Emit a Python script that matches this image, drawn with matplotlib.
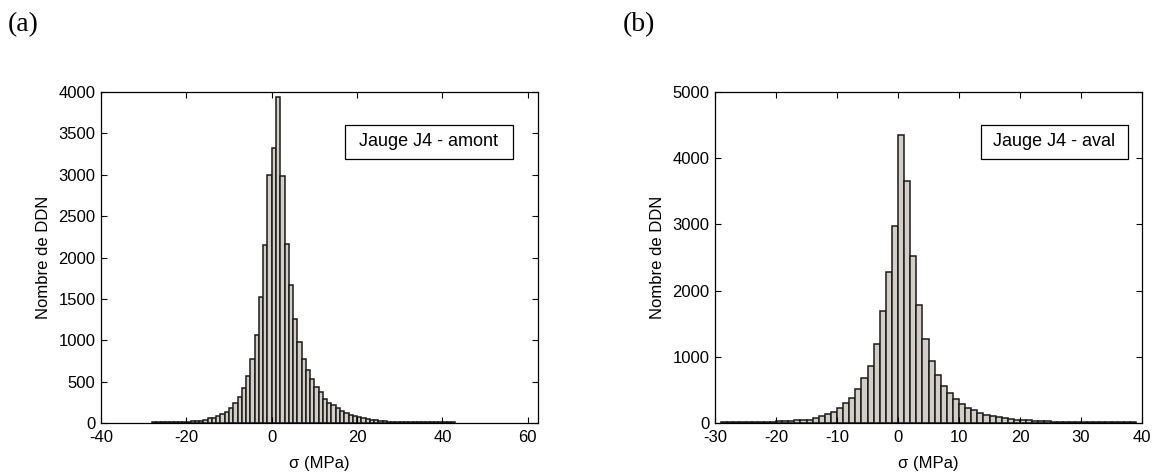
import numpy as np
import matplotlib.pyplot as plt
from matplotlib.patches import Rectangle

# Histogrammes des contraintes (jauge J4), classes de 1 MPa
# (a) amont : bornes gauches de -28 a 42 MPa
debut_amont = -28
compte_amont = [10, 8, 10, 9, 10, 8, 10, 11,
                12, 20, 22, 28, 40, 56, 58, 88, 108, 132,
                181, 241, 313, 422, 574, 771, 1064, 1518, 2149, 3000,
                3320, 3940, 2990, 2165, 1667, 1253, 984, 775, 635, 530,
                438, 375, 290, 240, 212, 180, 148, 120, 100, 80,
                68, 56, 54, 40, 38, 22, 20, 18, 18, 16,
                14, 10, 9, 10, 8, 9, 10, 8, 9, 8, 10, 9, 8]

# (b) aval : bornes gauches de -29 a 38 MPa
debut_aval = -29
compte_aval = [10, 9, 10, 10, 9, 10, 10, 11, 10,
               35, 35, 35, 50, 50, 50, 75, 111, 136, 166,
               226, 302, 377, 513, 679, 868, 1194, 1690, 2275, 2970,
               4343, 3660, 2518, 1778, 1262, 930, 724, 566, 452, 355,
               289, 228, 201, 158, 126, 108, 85, 72, 66, 50,
               50, 45, 28, 27, 25, 12, 12, 11, 12, 10,
               11, 10, 12, 10, 10, 11, 10, 9, 10]

panneaux = [
    dict(debut=debut_amont, compte=compte_amont, xlim=(-40, 62.4),
         xticks=[-40, -20, 0, 20, 40, 60], ylim=(0, 4000),
         yticks=[0, 500, 1000, 1500, 2000, 2500, 3000, 3500, 4000],
         texte='Jauge J4 - amont', lettre='(a)',
         pos=[101 / 1157, 52 / 475, 437 / 1157, 331 / 475],
         boite=(0.558, 0.798, 0.385, 0.102), lettre_x=8 / 1157),
    dict(debut=debut_aval, compte=compte_aval, xlim=(-30, 40),
         xticks=[-30, -20, -10, 0, 10, 20, 30, 40], ylim=(0, 5000),
         yticks=[0, 1000, 2000, 3000, 4000, 5000],
         texte='Jauge J4 - aval', lettre='(b)',
         pos=[715 / 1157, 52 / 475, 427 / 1157, 331 / 475],
         boite=(0.623, 0.798, 0.344, 0.102), lettre_x=623 / 1157),
]

plt.rcParams['font.family'] = ['Liberation Sans', 'DejaVu Sans']
plt.rcParams['axes.unicode_minus'] = False
fig = plt.figure(figsize=(11.57, 4.75), dpi=100)

for p in panneaux:
    ax = fig.add_axes(p['pos'])
    x = np.arange(p['debut'], p['debut'] + len(p['compte']))
    ax.bar(x, p['compte'], width=1.0, align='edge', color='#d2cec6',
           edgecolor='#1a1a1a', linewidth=1.1)
    ax.set_xlim(*p['xlim'])
    ax.set_ylim(*p['ylim'])
    ax.set_xticks(p['xticks'])
    ax.set_yticks(p['yticks'])
    ax.tick_params(direction='in', length=4, width=0.8, labelsize=12,
                   top=True, right=True)
    ax.tick_params(axis='x', pad=5)
    ax.tick_params(axis='y', pad=4)
    for s in ax.spines.values():
        s.set_linewidth(0.9)
    ax.set_xlabel('σ (MPa)', fontsize=12, labelpad=8)
    ax.set_ylabel('Nombre de DDN', fontsize=12, labelpad=5)

    bx, by, bw, bh = p['boite']
    ax.add_patch(Rectangle((bx, by), bw, bh, transform=ax.transAxes,
                           facecolor='white', edgecolor='black',
                           linewidth=0.9, zorder=5))
    ax.text(bx + bw / 2, by + bh / 2, p['texte'], transform=ax.transAxes,
            ha='center', va='center', fontsize=13, zorder=6)

    fig.text(p['lettre_x'], 1 - 25 / 475, p['lettre'], ha='left',
             va='center', fontsize=20, family='Liberation Serif')

fig.savefig('out.png', dpi=100)
